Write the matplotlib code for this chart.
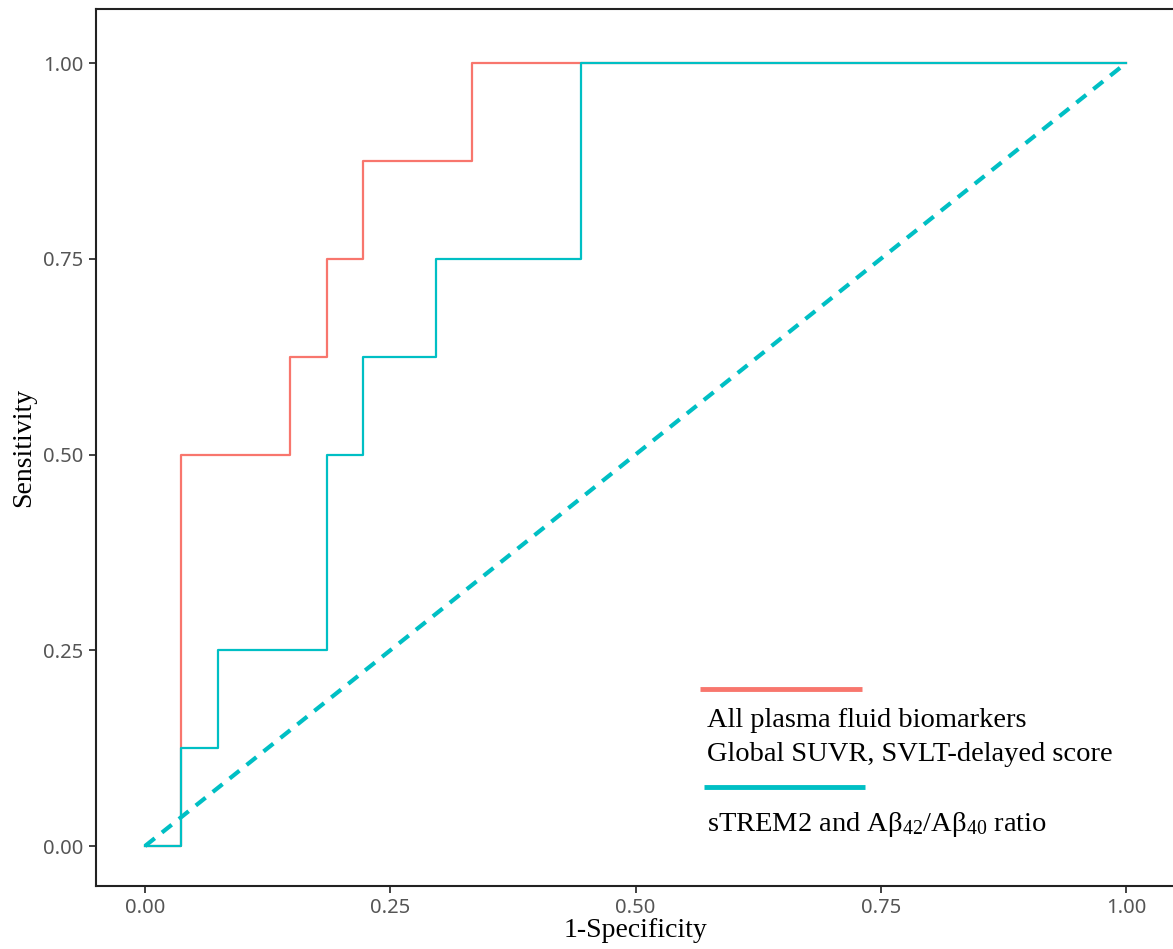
import matplotlib
matplotlib.use("Agg")
import matplotlib.pyplot as plt

# ROC corner points (1-specificity, sensitivity)
fpr_all = [0, 1/27, 4/27, 5/27, 6/27, 9/27, 1]
tpr_all = [0, 0.5, 0.625, 0.75, 0.875, 1.0, 1.0]
fpr_strem = [0, 1/27, 2/27, 5/27, 6/27, 8/27, 12/27, 1]
tpr_strem = [0, 0.125, 0.25, 0.5, 0.625, 0.75, 1.0, 1.0]
ref_line = [0, 1]

ticks = [0, 0.25, 0.5, 0.75, 1.0]
tick_labels = ["0.00", "0.25", "0.50", "0.75", "1.00"]
labels = ["All plasma fluid biomarkers\nGlobal SUVR, SVLT-delayed score",
          "sTREM2 and A\u03b2$_{42}$/A\u03b2$_{40}$ ratio"]

red = "#F8766D"
cyan = "#00BFC4"
serif = ["Liberation Serif", "DejaVu Serif"]
plt.rcParams["mathtext.fontset"] = "custom"
plt.rcParams["mathtext.rm"] = "Liberation Serif"
plt.rcParams["mathtext.it"] = "Liberation Serif"

fig = plt.figure(figsize=(11.73, 9.49), dpi=100)
ax = fig.add_axes([0.0818, 0.0664, 0.92, 0.9241])

ax.step(fpr_all, tpr_all, where="post", color=red, lw=1.6)
ax.step(fpr_strem, tpr_strem, where="post", color=cyan, lw=1.6)
ax.plot(ref_line, ref_line, color=cyan, lw=3, ls=(0, (3, 2.2)))

ax.set_xlim(-0.05, 1.05)
ax.set_ylim(-0.051, 1.069)
ax.set_xticks(ticks, tick_labels)
ax.set_yticks(ticks, tick_labels)
ax.tick_params(length=5, width=1.3, color="#333333", labelcolor="#555555",
               labelsize=14.5, pad=4)
for lab in ax.get_xticklabels() + ax.get_yticklabels():
    lab.set_family(["Noto Sans", "DejaVu Sans"])
for s in ax.spines.values():
    s.set_linewidth(1.5)
    s.set_color("#222222")

ax.set_xlabel("1-Specificity", family=serif, fontsize=20, labelpad=0)
ax.set_ylabel("Sensitivity", family=serif, fontsize=20, labelpad=5)

# legend drawn by hand: key line above each label
tr = ax.transAxes
ax.plot([0.560, 0.710], [0.2246, 0.2246], transform=tr, color=red, lw=3.5,
        solid_capstyle="butt")
ax.text(0.566, 0.203, labels[0], transform=tr, family=serif, fontsize=20.5,
        va="top", linespacing=1.45)
ax.plot([0.563, 0.713], [0.113, 0.113], transform=tr, color=cyan, lw=3.5,
        solid_capstyle="butt")
ax.text(0.566, 0.087, labels[1], transform=tr, family=serif, fontsize=20.5,
        va="top")

fig.savefig("out.png", dpi=100)
